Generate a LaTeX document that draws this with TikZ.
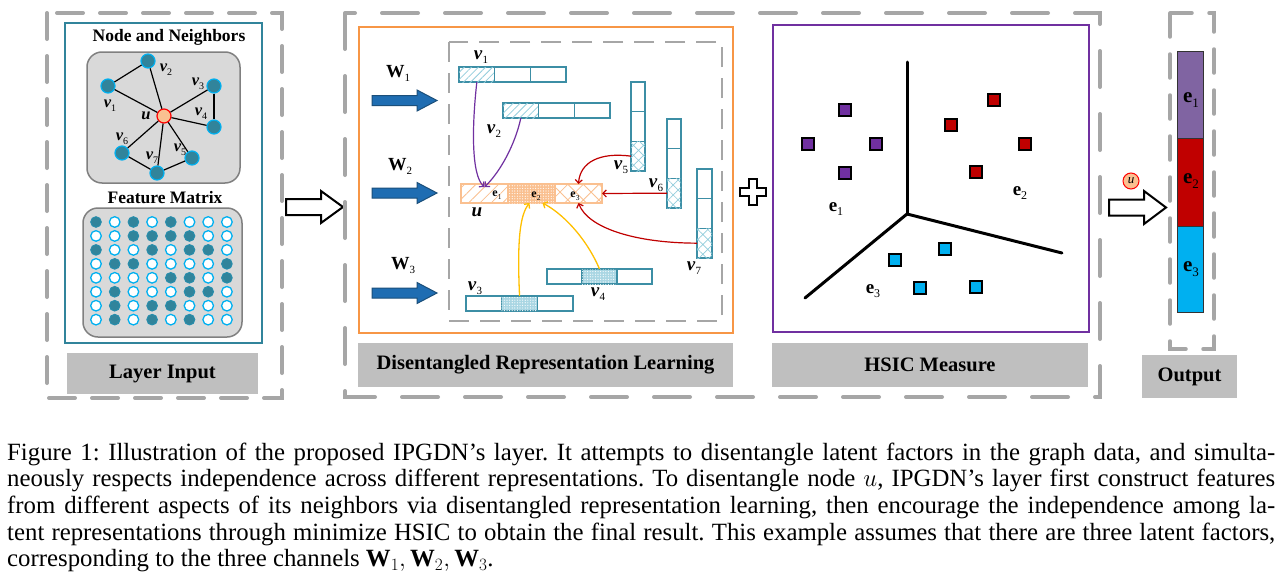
\documentclass[tikz,border=0pt]{standalone}
\usepackage{fontspec}
\setmainfont{Liberation Serif}
\usetikzlibrary{patterns.meta,arrows.meta,calc}
\definecolor{dgray}{HTML}{A6A6A6}
\definecolor{tealc}{HTML}{31849B}
\definecolor{cyanc}{HTML}{00B0F0}
\definecolor{peach}{HTML}{FAC090}
\definecolor{lgray}{HTML}{D9D9D9}
\definecolor{mgray}{HTML}{808080}
\definecolor{boxgray}{HTML}{BFBFBF}
\definecolor{orangec}{HTML}{F79646}
\definecolor{purplec}{HTML}{7030A0}
\definecolor{redc}{HTML}{C00000}
\definecolor{yellowc}{HTML}{FFC000}
\definecolor{cellc}{HTML}{3C8EA5}
\definecolor{hatchc}{HTML}{92CDDC}
\definecolor{dotbg}{HTML}{A9D6E3}
\definecolor{outpurple}{HTML}{8064A2}
\definecolor{bluefill}{HTML}{1F6DB2}
\definecolor{bluedraw}{HTML}{1B4F7A}
\newcommand{\mysub}[2]{\raisebox{-0.22em}{\normalfont\fontsize{#1}{#1}\selectfont #2}}
\newcommand{\hbarthree}[8]{%
  \node[cellb, minimum width=#4, minimum height=#5, anchor=west, #6] (#1a) at (#2,#3) {};
  \node[cellb, minimum width=#4, minimum height=#5, anchor=west, #7] (#1b) at (#1a.east) {};
  \node[cellb, minimum width=#4, minimum height=#5, anchor=west, #8] (#1c) at (#1b.east) {};}
\newcommand{\vbarthree}[8]{%
  \node[cellb, minimum width=#4, minimum height=#5, anchor=north, #6] (#1a) at (#2,#3) {};
  \node[cellb, minimum width=#4, minimum height=#5, anchor=north, #7] (#1b) at (#1a.south) {};
  \node[cellb, minimum width=#4, minimum height=#5, anchor=north, #8] (#1c) at (#1b.south) {};}
\tikzset{
  gdashA/.style={draw=dgray, line width=4, line cap=round, dash pattern=on 26pt off 17pt},
  gdashB/.style={draw=dgray, line width=4, line cap=round, dash pattern=on 36pt off 27pt},
  gdashO/.style={draw=dgray, line width=3.5, line cap=round, dash pattern=on 24pt off 17pt},
  gdashI/.style={draw=dgray, line width=2.5, dash pattern=on 20pt off 11pt},
  gnode/.style={circle, fill=tealc, draw=cyanc, line width=1.2, minimum size=14, inner sep=0},
  unode/.style={circle, fill=peach, draw=red, line width=1.2, minimum size=14, inner sep=0},
  gedge/.style={draw=black, line width=1.2},
  dot0/.style={circle, fill=white, draw=cyanc, line width=1.3, minimum size=10.6, inner sep=0},
  dot1/.style={circle, fill=tealc, draw=tealc!80!cyanc, line width=1, minimum size=10.6, inner sep=0},
  ttl/.style={font=\bfseries\fontsize{17.5}{18}\selectfont, inner sep=0},
  lbox/.style={fill=boxgray, inner sep=0, font=\bfseries\fontsize{20.5}{21}\selectfont},
  harrow/.style={draw=black, fill=white, line width=2, line join=miter},
  barrow/.style={draw=bluedraw, fill=bluefill, line width=1},
  cellb/.style={draw=cellc, line width=1.3, fill=white, inner sep=0, outer sep=0},
  hatchb/.style={postaction={pattern={Lines[angle=45,distance=5pt,line width=0.8pt]}, pattern color=hatchc}},
  dotb/.style={fill=dotbg, postaction={pattern={Dots[distance=2.6pt,radius=0.6pt]}, pattern color=white}},
  crossb/.style={postaction={pattern={Hatch[angle=45,distance=7pt,line width=0.7pt]}, pattern color=hatchc}},
  ecell/.style={draw=peach},
  ehatch/.style={postaction={pattern={Lines[angle=45,distance=8pt,line width=0.8pt]}, pattern color=peach}},
  edot/.style={fill=peach, postaction={pattern={Dots[distance=2.6pt,radius=0.6pt]}, pattern color=white}},
  ecross/.style={postaction={pattern={Hatch[angle=45,distance=11pt,line width=0.8pt]}, pattern color=peach}},
  vlabL/.style={font=\bfseries\fontsize{16.5}{16.5}\selectfont, inner sep=0},
  vlabM/.style={font=\bfseries\fontsize{19}{19}\selectfont, inner sep=0},
  wlab/.style={font=\bfseries\fontsize{18.5}{18.5}\selectfont, inner sep=0},
  esm/.style={font=\bfseries\fontsize{12}{12}\selectfont, inner sep=0},
  ehs/.style={font=\bfseries\fontsize{19}{19}\selectfont, inner sep=0},
  eout/.style={font=\bfseries\fontsize{21}{21}\selectfont, inner sep=0},
  parr/.style={draw=purplec, line width=1.2, -{Straight Barb[length=3.5pt,width=7pt]}},
  rarr/.style={draw=redc, line width=1.2, -{Straight Barb[length=3.5pt,width=7pt]}},
  yarr/.style={draw=yellowc, line width=1.3, -{Straight Barb[length=3.5pt,width=7pt]}},
  axisl/.style={draw=black, line width=3, line cap=round},
  sq/.style={draw=black, line width=1.2, minimum size=12, inner sep=0},
  obar/.style={draw=black!80, line width=1, minimum width=26, inner sep=0, outer sep=0},
}
\begin{document}
\begin{tikzpicture}[x=1pt,y=-1pt]
\useasboundingbox (0,0) rectangle (1283,581);
\fill[white] (0,0) rectangle (1283,581);

%% ---------------- Layer input ----------------
\draw[gdashA] (47,13) rectangle (282,398);
\draw[draw=tealc, line width=2.5] (65,23) rectangle (262,343);
\node[ttl] (tnn) at (169,37) {Node and Neighbors};
\draw[fill=lgray, draw=mgray, line width=1.5, rounded corners=15] (87,52) rectangle (240,183);
\node[gnode] (g2) at (148,61) {};
\node[gnode] (g1) at (108,86) {};
\node[gnode] (g3) at (214,86) {};
\node[gnode] (g4) at (214,127) {};
\node[gnode] (g6) at (122,153) {};
\node[gnode] (g5) at (192,158) {};
\node[gnode] (g7) at (157,173) {};
\node[unode] (gu) at (164,116) {};
\foreach \t in {g1,g2,g3,g4,g5,g6,g7} {\draw[gedge] (gu) -- (\t);}
\draw[gedge] (g1) -- (g2);
\draw[gedge] (g3) -- (g4);
\draw[gedge] (g6) -- (g7);
\draw[gedge] (g7) -- (g5);
\node[vlabL] (lg1) at (110,106) {\textit{v}\mysub{10}{1}};
\node[vlabL] (lg2) at (166,70) {\textit{v}\mysub{10}{2}};
\node[vlabL] (lg3) at (198,84) {\textit{v}\mysub{10}{3}};
\node[vlabL] (lg4) at (201,114) {\textit{v}\mysub{10}{4}};
\node[vlabL] (lg5) at (180,150) {\textit{v}\mysub{10}{5}};
\node[vlabL] (lg6) at (122,139) {\textit{v}\mysub{10}{6}};
\node[vlabL] (lg7) at (152,158) {\textit{v}\mysub{10}{7}};
\node[vlabL] (lgu) at (146,116) {\textit{u}};

\node[ttl] (tfm) at (165,198) {Feature Matrix};
\draw[fill=lgray, draw=mgray, line width=1.5, rounded corners=15] (83,208) rectangle (242,337);
\foreach \row [count=\r] in {{1,0,1,0,1,0,0,0},{0,0,1,1,1,1,0,0},{1,0,0,1,0,1,1,0},{0,1,1,0,0,0,0,1},{0,0,0,0,1,1,0,1},{0,1,0,0,0,1,1,0},{0,1,0,1,1,0,0,0},{0,1,0,1,0,1,0,0}} {
  \foreach \v [count=\c] in \row {
    \node[dot\v] (m\r-\c) at ({96+(\c-1)*18.7},{222+(\r-1)*13.95}) {};
  }
}
\node[lbox, minimum width=191, minimum height=41] (li) at (162.5,373.5) {Layer Input};

\draw[harrow] (286,199) -- (321,199) -- (321,191) -- (343,207) -- (321,223) -- (321,215) -- (286,215) -- cycle;

%% ---------------- Middle ----------------
\draw[gdashB] (345,13) rectangle (1100,397);
\draw[draw=orangec, line width=2.5] (359,27) rectangle (733,333);
\draw[gdashI] (449,42) rectangle (722,321);
\node[lbox, minimum width=375, minimum height=44] (drl) at (545.5,365) {Disentangled Representation Learning};

\foreach \c in {100.5,193,293} {
  \draw[barrow] (372,\c-5) -- (417,\c-5) -- (417,\c-10.5) -- (437,\c) -- (417,\c+10.5) -- (417,\c+5) -- (372,\c+5) -- cycle;
}
\node[wlab, anchor=base west] (w1) at (386,77) {W\mysub{11}{1}};
\node[wlab, anchor=base west] (w2) at (388,170) {W\mysub{11}{2}};
\node[wlab, anchor=base west] (w3) at (391,269) {W\mysub{11}{3}};

\hbarthree{v1}{459}{74.5}{35.7}{15}{hatchb}{}{}
\hbarthree{v2}{503}{110.5}{35.7}{15}{hatchb}{}{}
\hbarthree{v3}{466}{303.5}{35.7}{15}{}{dotb}{}
\hbarthree{v4}{547}{276.5}{35}{15}{}{dotb}{}
\hbarthree{ue}{461}{193.5}{47}{19}{ecell,ehatch}{ecell,edot}{ecell,ecross}
\vbarthree{v5}{638}{82}{14}{29.67}{}{}{crossb}
\vbarthree{v6}{674}{119}{14}{29.67}{}{}{crossb}
\vbarthree{v7}{704.5}{169}{15}{29.67}{}{}{crossb}

\node[esm] (le1) at (497,195) {e\mysub{7.5}{1}};
\node[esm] (le2) at (536,196) {e\mysub{7.5}{2}};
\node[esm] (le3) at (575,196) {e\mysub{7.5}{3}};

\node[vlabM] (lv1) at (481,57) {\textit{v}\mysub{11}{1}};
\node[vlabM] (lv2) at (494,131) {\textit{v}\mysub{11}{2}};
\node[vlabM] (lv3) at (475,288) {\textit{v}\mysub{11}{3}};
\node[vlabM] (lv4) at (598,294) {\textit{v}\mysub{11}{4}};
\node[vlabM] (lv5) at (621,167) {\textit{v}\mysub{11}{5}};
\node[vlabM] (lv6) at (656,185) {\textit{v}\mysub{11}{6}};
\node[vlabM] (lv7) at (694,268) {\textit{v}\mysub{11}{7}};
\node[vlabM] (lvu) at (477,212) {\textit{u}};

\draw[parr] (v1a.south) .. controls (472,125) and (471,175) .. ([yshift=-3pt]uea.north);
\draw[parr] (v2a.south) .. controls (515,145) and (500,172) .. ([yshift=-3pt]uea.north);
\draw[rarr] (v5c.west) .. controls (600,152) and (580,162) .. (uec.north);
\draw[rarr] (v6c.west) -- (uec.east);
\draw[rarr] (v7c.west) .. controls (635,243) and (588,228) .. (uec.south);
\draw[yarr] (v3b.north) .. controls (517,240) and (520,215) .. ([xshift=-2pt]ueb.south);
\draw[yarr] (v4b.north) .. controls (585,235) and (560,212) .. ([xshift=11pt]ueb.south);

\draw[harrow] (749,179) -- (757,179) -- (757,188) -- (766,188) -- (766,196) -- (757,196) -- (757,205) -- (749,205) -- (749,196) -- (740,196) -- (740,188) -- (749,188) -- cycle;

%% ---------------- HSIC ----------------
\draw[draw=purplec, line width=2.5] (773,25) rectangle (1089,332);
\node[lbox, minimum width=316, minimum height=44] (hsic) at (930,365) {HSIC Measure};
\coordinate (ax0) at (907,214);
\coordinate (ax1) at (907,62);
\coordinate (ax2) at (805,298);
\coordinate (ax3) at (1062,253);
\draw[axisl] (ax0) -- (ax1);
\draw[axisl] (ax0) -- (ax2);
\draw[axisl] (ax0) -- (ax3);
\node[sq, fill=purplec] (p1) at (845,110) {};
\node[sq, fill=purplec] (p2) at (808,144) {};
\node[sq, fill=purplec] (p3) at (876,144) {};
\node[sq, fill=purplec] (p4) at (845,173) {};
\node[sq, fill=redc] (r1) at (994,100) {};
\node[sq, fill=redc] (r2) at (951,125) {};
\node[sq, fill=redc] (r3) at (1025,144) {};
\node[sq, fill=redc] (r4) at (976,172) {};
\node[sq, fill=cyanc] (c1) at (945,249) {};
\node[sq, fill=cyanc] (c2) at (895,260) {};
\node[sq, fill=cyanc] (c3) at (920,288) {};
\node[sq, fill=cyanc] (c4) at (976,287) {};
\node[ehs] (he1) at (836,209) {e\mysub{12}{1}};
\node[ehs] (he2) at (1020,193) {e\mysub{12}{2}};
\node[ehs] (he3) at (873,291) {e\mysub{12}{3}};

%% ---------------- Output ----------------
\draw[gdashO] (1170,13) rectangle (1214,349);
\node[obar, fill=outpurple, minimum height=87, anchor=north] (o1) at (1190,51) {};
\node[obar, fill=redc, minimum height=88, anchor=north] (o2) at (o1.south) {};
\node[obar, fill=cyanc, minimum height=86, anchor=north] (o3) at (o2.south) {};
\node[eout] (oe1) at (1191,100) {e\mysub{13}{1}};
\node[eout] (oe2) at (1191,181) {e\mysub{13}{2}};
\node[eout] (oe3) at (1191,269) {e\mysub{13}{3}};
\node[lbox, minimum width=95, minimum height=43] (outl) at (1189.5,376.5) {Output};
\node[circle, fill=peach, draw=red, line width=1, minimum size=16, inner sep=0, font=\itshape\fontsize{13}{13}\selectfont] (ou) at (1131,181) {u};
\draw[harrow] (1109,199.5) -- (1144,199.5) -- (1144,191) -- (1166,207.5) -- (1144,224) -- (1144,215.5) -- (1109,215.5) -- cycle;

%% ---------------- Caption ----------------
\node[anchor=base west, inner sep=0, font=\fontsize{24.8}{26.7}\selectfont\frenchspacing] (cap) at (7,460) {\vtop{%
\hbox to 1268pt{Figure 1: Illustration of the proposed IPGDN’s layer. It attempts to disentangle latent factors in the graph data, and simulta-}%
\hbox to 1268pt{neously respects independence across different representations. To disentangle node $u$, IPGDN’s layer first construct features}%
\hbox to 1268pt{from different aspects of its neighbors via disentangled representation learning, then encourage the independence among la-}%
\hbox to 1268pt{tent representations through minimize HSIC to obtain the final result. This example assumes that there are three latent factors,}%
\hbox{corresponding to the three channels $\mathbf{W}_1, \mathbf{W}_2, \mathbf{W}_3$.}}};
\end{tikzpicture}
\end{document}
